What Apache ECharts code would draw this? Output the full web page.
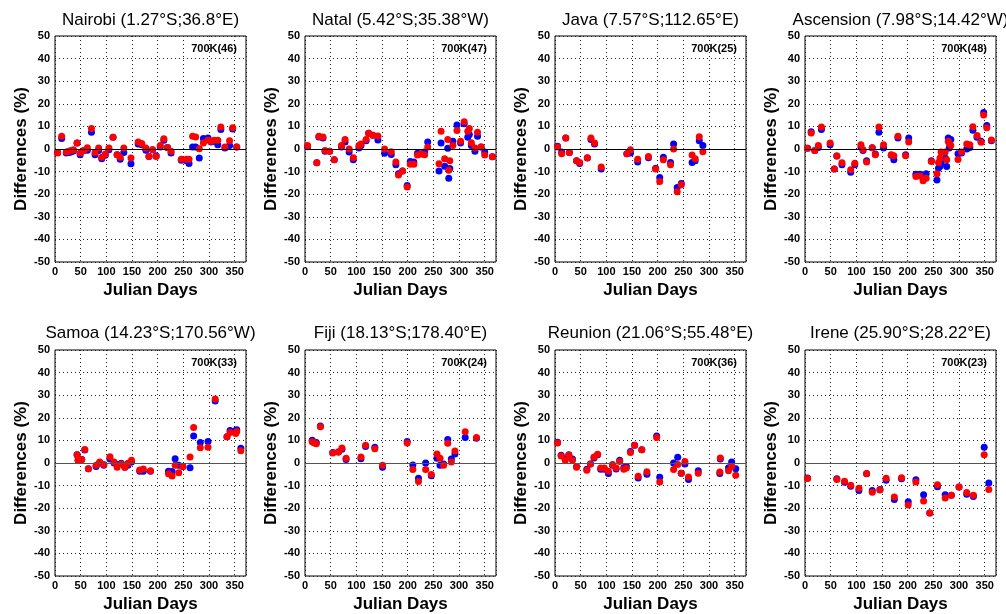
<!DOCTYPE html>
<html>
<head>
<meta charset="utf-8">
<script src="https://cdn.jsdelivr.net/npm/echarts@6/dist/echarts.min.js"></script>
<style>
html,body{margin:0;padding:0;background:#fff;}
#chart{width:1006px;height:614px;}
</style>
</head>
<body>
<div id="chart"></div>
<script>
// ---------- data ----------
const titles = ["Nairobi (1.27°S;36.8°E)", "Natal (5.42°S;35.38°W)", "Java (7.57°S;112.65°E)", "Ascension (7.98°S;14.42°W)",
                "Samoa (14.23°S;170.56°W)", "Fiji (18.13°S;178.40°E)", "Reunion (21.06°S;55.48°E)", "Irene (25.90°S;28.22°E)"];
const countLabels = ["700K(46)", "700K(47)", "700K(25)", "700K(48)", "700K(33)", "700K(24)", "700K(36)", "700K(23)"];
const xTicks = [0, 50, 100, 150, 200, 250, 300, 350];
const yTicks = [-50, -40, -30, -20, -10, 0, 10, 20, 30, 40, 50];

const nairobiDays = [5,13,22,27,31,36,43,49,56,63,71,78,85,91,98,105,113,121,127,134,148,162,169,177,183,190,197,205,212,219,226,246,256,261,268,274,281,289,298,304,310,317,323,331,340,346,354];
const nairobiBlue = [-1.5,4.6,-1.8,-1.5,-1.3,-0.9,2.7,-2.5,-0.7,-0.6,7.4,-2.5,-0.7,-4.3,-2.8,-0.3,5.2,-2.5,-4.5,-1.5,-6.5,2.2,1.9,-0.6,-3.3,-0.3,-3.0,0.9,3.9,0.7,-1.8,-5.0,-5.2,-6.4,0.9,0.9,-4.0,4.6,4.9,3.1,3.4,1.9,8.6,0.4,1.5,8.9,0.9];
const nairobiRed  = [-1.8,5.6,-1.3,-1.0,-0.7,-0.3,2.7,-1.8,-0.7,0.5,9.1,-1.5,0.4,-3.7,-2.2,0.4,5.2,-2.5,-3.7,0.4,-4.0,3.1,2.4,0.4,-3.3,-0.3,-3.3,1.6,4.5,0.7,-1.0,-4.5,-4.5,-4.5,5.6,5.3,0.1,2.7,3.9,3.4,3.9,3.9,9.7,0.9,3.7,9.4,0.9];

const natalDays = [5,23,27,35,39,48,57,71,78,86,94,105,109,119,124,132,142,155,168,177,182,190,199,205,212,219,226,233,239,261,265,272,278,280,282,288,296,303,310,317,320,324,331,336,343,350,365];
const natalBlue = [1.0,-6.1,5.3,4.9,-1.0,-1.0,-4.8,0.9,3.1,-1.3,-4.8,0.4,1.6,3.6,7.0,6.1,4.0,-1.9,-2.4,-7.0,-10.9,-9.7,-16.2,-5.5,-5.8,-1.9,-2.1,-1.3,3.1,-9.7,2.7,-7.6,0.3,-12.9,-8.6,3.4,10.6,2.7,11.2,5.2,6.4,1.6,-1.0,5.6,0.9,-1.3,-3.4];
const natalRed  = [1.5,-6.1,5.6,5.3,-0.7,-1.0,-4.8,1.5,4.2,0.0,-3.9,1.6,2.2,4.2,7.0,6.1,5.8,0.0,-1.2,-5.7,-11.5,-9.7,-16.8,-6.8,-6.8,-2.7,-2.2,-2.5,0.9,-6.5,7.9,-4.3,4.2,-9.4,-5.2,1.6,8.2,3.4,12.1,7.9,9.1,2.8,0.4,7.4,0.9,-2.7,-3.4];

const javaDays = [5,13,21,28,42,48,63,70,77,90,140,147,161,182,196,204,211,225,231,238,246,267,273,281,288];
const javaBlue = [1.2,-1.3,4.9,-1.5,-5.2,-6.4,-4.0,4.2,2.2,-8.9,-2.1,-1.8,-5.7,-3.9,-8.5,-12.6,-3.7,-6.0,2.2,-17.0,-15.3,-6.0,-5.2,3.7,1.6];
const javaRed  = [0.9,-2.1,4.9,-1.5,-5.2,-6.0,-3.9,4.9,2.7,-8.0,-2.1,-0.3,-4.5,-3.3,-8.9,-14.4,-4.8,-7.0,0.0,-18.9,-15.8,-2.7,-4.3,5.4,-1.2];

const ascensionDays = [5,12,19,26,32,49,57,62,72,89,97,109,113,120,131,137,144,153,168,173,181,196,202,216,224,230,236,246,257,260,263,265,273,276,279,281,284,298,305,315,321,327,335,343,348,354,363];
const ascensionBlue = [0.3,7.6,-0.7,0.7,8.6,1.9,-8.9,-3.1,-7.0,-10.3,-7.0,0.9,-0.7,-5.2,0.6,-2.2,7.4,0.4,-2.8,-4.8,4.9,-2.5,4.9,-11.2,-11.2,-11.5,-10.9,-5.2,-13.7,-8.5,-7.6,-6.3,-4.0,-7.7,4.9,0.4,4.2,-2.1,-1.8,0.0,0.7,8.3,5.2,3.4,16.1,10.4,3.6];
const ascensionRed  = [0.3,7.1,-0.7,1.5,9.7,2.7,-8.9,-3.1,-6.1,-9.2,-6.3,1.9,-0.3,-5.7,0.6,-2.5,9.7,1.9,-2.5,-3.0,5.6,-3.0,3.1,-12.2,-11.9,-14.1,-12.9,-5.5,-11.0,-6.0,-4.0,-1.3,-1.3,-4.8,3.4,2.4,1.6,-4.6,-1.3,2.2,1.9,9.8,6.0,3.0,15.0,9.4,4.0];

const samoaDays = [43,45,49,52,58,65,80,87,95,107,115,121,129,136,142,149,165,172,186,221,228,234,241,249,263,270,283,298,312,335,341,352,354,362];
const samoaBlue = [3.7,1.2,1.2,1.6,5.7,-2.5,-1.6,0.0,-1.0,1.8,0.0,-0.7,-0.1,-1.9,-1.0,0.4,-3.7,-3.7,-3.7,-3.7,-3.8,1.9,-1.0,-1.6,-2.1,12.0,9.1,9.5,27.4,11.6,14.4,14.4,14.7,6.5];
const samoaRed  = [3.7,1.2,1.2,1.6,6.0,-2.5,-1.0,0.4,-0.7,2.8,0.4,-1.9,-0.4,-1.9,-0.1,1.2,-3.1,-2.6,-3.4,-4.8,-5.7,-1.0,-4.3,-1.6,2.6,15.7,6.7,7.0,28.3,11.6,13.5,13.0,13.9,5.4];

const fijiDays = [14,18,22,30,54,65,72,80,109,118,136,151,199,210,221,235,246,257,263,270,278,285,292,312,334];
const fijiBlue = [10.1,9.0,9.1,16.4,4.7,4.9,6.1,1.5,1.9,7.3,7.0,-1.9,9.5,-0.9,-6.7,0.0,-5.6,2.1,-1.0,-0.4,10.4,1.8,4.0,11.3,11.0];
const fijiRed  = [9.4,9.0,8.5,16.0,4.4,4.9,6.6,2.1,2.6,7.8,6.3,-1.0,8.8,-2.9,-8.2,-2.9,-5.1,4.0,2.1,-1.0,8.7,0.4,5.3,13.8,11.3];

const reunionDays = [5,12,20,27,34,42,62,69,76,83,89,96,104,112,119,126,134,139,147,155,162,169,179,198,204,231,239,246,253,260,279,321,322,338,344,352];
const reunionBlue = [9.2,3.4,1.8,3.7,1.8,-1.6,-2.8,-0.4,2.2,3.6,-2.8,-2.8,-4.7,-1.0,-2.6,1.2,-2.1,-1.6,5.1,7.8,-6.6,5.9,-5.0,12.0,-6.3,0.0,2.5,-4.5,-0.4,-7.3,-3.4,-4.7,1.8,-2.1,0.4,-2.5];
const reunionRed  = [8.8,3.1,1.2,3.4,1.2,-1.9,-3.2,-0.4,2.6,3.9,-2.2,-2.2,-3.7,-0.7,-2.2,0.7,-2.8,-2.2,4.7,7.8,-5.9,5.9,-3.9,11.3,-8.4,-2.9,-0.7,-4.5,0.7,-6.2,-4.5,-4.0,2.2,-3.4,-1.5,-5.4];

const ireneDays = [5,62,77,89,105,120,131,146,158,174,188,201,216,231,243,258,273,285,300,315,328,349,358];
const ireneBlue = [-6.6,-7.0,-8.5,-10.3,-12.2,-4.8,-12.2,-11.7,-7.6,-16.2,-7.0,-17.2,-7.4,-14.0,-22.1,-10.5,-14.1,-14.3,-10.6,-13.8,-14.8,7.0,-8.8];
const ireneRed  = [-6.9,-7.3,-8.1,-9.8,-11.2,-4.7,-12.9,-12.0,-6.7,-15.0,-6.5,-18.6,-8.4,-16.8,-22.1,-9.6,-15.5,-14.3,-10.6,-13.1,-14.3,3.7,-11.7];

// ---------- build ----------
const panelDays = [nairobiDays, natalDays, javaDays, ascensionDays, samoaDays, fijiDays, reunionDays, ireneDays];
const panelBlue = [nairobiBlue, natalBlue, javaBlue, ascensionBlue, samoaBlue, fijiBlue, reunionBlue, ireneBlue];
const panelRed  = [nairobiRed, natalRed, javaRed, ascensionRed, samoaRed, fijiRed, reunionRed, ireneRed];

const FONT = '"Liberation Sans", Arial, Helvetica, sans-serif';
const zip = (xs, ys) => xs.map((x, i) => [x, ys[i]]);

const option = {
  animation: false,
  backgroundColor: '#ffffff',
  grid: [], xAxis: [], yAxis: [], series: [], graphic: []
};

for (let i = 0; i < 8; i++) {
  const row = i < 4 ? 0 : 1;
  const col = i % 4;
  const left = 55 + col * 250;
  const top = row ? 350 : 36;
  const height = row ? 227 : 226;
  const width = 191;
  option.grid.push({
    left: left, top: top, width: width, height: height,
    show: true, borderColor: '#000', borderWidth: 1, backgroundColor: 'transparent',
    containLabel: false
  });
  option.xAxis.push({
    gridIndex: i, type: 'value', min: 0, max: 372, interval: 50,
    name: 'Julian Days', nameLocation: 'middle', nameGap: 20,
    nameTextStyle: { fontSize: 17, fontWeight: 'bold', color: '#000', fontFamily: FONT },
    axisLine: { show: false }, axisTick: { show: false },
    axisLabel: {
      color: '#000', fontSize: 11, fontWeight: 'bold', fontFamily: FONT, margin: 4,
      formatter: v => (xTicks.indexOf(v) >= 0 ? String(v) : '')
    },
    splitLine: { show: true, lineStyle: { color: '#222', type: [1, 3], width: 1 } }
  });
  option.yAxis.push({
    gridIndex: i, type: 'value', min: yTicks[0], max: yTicks[yTicks.length - 1], interval: 10,
    name: 'Differences (%)', nameLocation: 'middle', nameGap: 25, nameRotate: 90,
    nameTextStyle: { fontSize: 17, fontWeight: 'bold', color: '#000', fontFamily: FONT },
    axisLine: { show: false }, axisTick: { show: false },
    axisLabel: { color: '#000', fontSize: 11, fontWeight: 'bold', fontFamily: FONT, margin: 5 },
    splitLine: { show: true, lineStyle: { color: '#222', type: [1, 3], width: 1 } }
  });
  option.series.push({
    type: 'scatter', xAxisIndex: i, yAxisIndex: i,
    data: zip(panelDays[i], panelBlue[i]),
    symbol: 'circle', symbolSize: 7,
    itemStyle: { color: '#0000ff', opacity: 1 },
    markLine: {
      silent: true, symbol: 'none', label: { show: false }, animation: false,
      lineStyle: { color: row ? '#555' : '#000', type: 'solid', width: 1 },
      data: [{ yAxis: 0 }]
    },
    z: 3
  });
  option.series.push({
    type: 'scatter', xAxisIndex: i, yAxisIndex: i,
    data: zip(panelDays[i], panelRed[i]),
    symbol: 'circle', symbolSize: 7,
    itemStyle: { color: '#ff0000', opacity: 1 },
    z: 4
  });
  option.graphic.push({
    type: 'text', x: left + width / 2, y: row ? 333 : 20, z: 10,
    style: { text: titles[i], font: '17px ' + FONT, fill: '#000',
             textAlign: 'center', textVerticalAlign: 'middle', align: 'center', verticalAlign: 'middle' }
  });
  option.graphic.push({
    type: 'text', x: left + 182, y: top + 13, z: 10,
    style: { text: countLabels[i], font: 'bold 11px ' + FONT, fill: '#000',
             textAlign: 'right', textVerticalAlign: 'middle', align: 'right', verticalAlign: 'middle' }
  });
}

const chart = echarts.init(document.getElementById('chart'), null, { renderer: 'canvas' });
chart.setOption(option);
</script>
</body>
</html>
